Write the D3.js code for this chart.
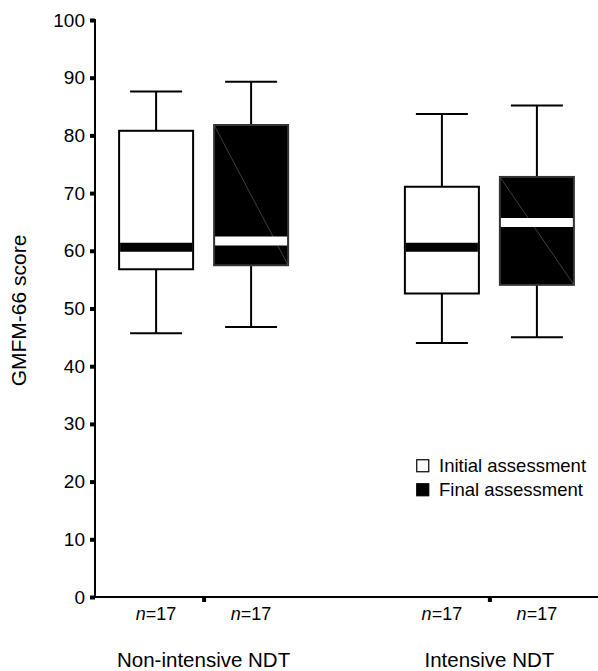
<!DOCTYPE html>
<html>
<head>
<meta charset="utf-8">
<script src="https://cdn.jsdelivr.net/npm/d3@7"></script>
<style>
  html, body { margin: 0; padding: 0; background: #fff; }
  svg { display: block; font-family: "Liberation Sans", Arial, Helvetica, sans-serif; }
</style>
</head>
<body>
<svg id="chart" width="598" height="671"></svg>
<script>
// Groups of therapy and the two assessment times within each group
const groups = ["Non-intensive NDT", "Intensive NDT"];
const assessments = ["Initial assessment", "Final assessment"];

// Box-plot statistics, ordered: group 1 initial, group 1 final, group 2 initial, group 2 final
const whiskerLow  = [45.7, 46.8, 44.0, 45.0];
const q1          = [56.8, 57.5, 52.6, 54.1];
const median      = [60.6, 61.7, 60.6, 64.9];
const q3          = [80.8, 81.8, 71.1, 72.8];
const whiskerHigh = [87.6, 89.3, 83.7, 85.2];
const sampleSize  = [17, 17, 17, 17];

const yTicks = [0, 10, 20, 30, 40, 50, 60, 70, 80, 90, 100];

const boxes = [];
groups.forEach((g, gi) => {
  assessments.forEach((a, ai) => {
    const i = gi * assessments.length + ai;
    boxes.push({
      group: g, assessment: a,
      lo: whiskerLow[i], q1: q1[i], med: median[i], q3: q3[i], hi: whiskerHigh[i],
      n: sampleSize[i]
    });
  });
});

const svg = d3.select("#chart");
const plotL = 95, plotR = 598, plotT = 20, plotB = 597;

const y = d3.scaleLinear().domain([0, 100]).range([plotB, plotT]);
const x = d3.scalePoint().domain(groups).range([plotL, plotR]).padding(0.38);
const xs = d3.scaleBand().domain(assessments).range([-95, 95]);

const boxW = 74, capW = 52;
const fillOf = a => a === assessments[0] ? "#fff" : "#000";
const bandOf = a => a === assessments[0] ? "#000" : "#fff";
const cx = d => x(d.group) + xs(d.assessment) + xs.bandwidth() / 2;

// Y axis with small square ticks
const yAxis = d3.axisLeft(y).tickValues(yTicks).tickSize(5).tickPadding(5).tickFormat(d3.format("d"));
const gy = svg.append("g").attr("transform", `translate(${plotL},0)`).call(yAxis);
gy.select(".domain").remove();
gy.selectAll(".tick line").attr("stroke", "#000").attr("stroke-width", 4);
gy.selectAll(".tick text").attr("font-size", 19).attr("fill", "#000");

// X axis ticks at group centres
const xAxis = d3.axisBottom(x).tickSize(5).tickFormat("");
const gx = svg.append("g").attr("transform", `translate(0,${plotB})`).call(xAxis);
gx.select(".domain").remove();
gx.selectAll(".tick line").attr("stroke", "#000").attr("stroke-width", 4);

// Axis lines
svg.append("line").attr("x1", plotL).attr("x2", plotL).attr("y1", plotT - 1).attr("y2", plotB + 1)
  .attr("stroke", "#000").attr("stroke-width", 2);
svg.append("line").attr("x1", plotL).attr("x2", plotR).attr("y1", plotB).attr("y2", plotB)
  .attr("stroke", "#000").attr("stroke-width", 2);

// Box plots
const bx = svg.append("g").selectAll("g").data(boxes).join("g");

// whisker stems
bx.append("line")
  .attr("x1", cx).attr("x2", cx)
  .attr("y1", d => y(d.hi)).attr("y2", d => y(d.q3))
  .attr("stroke", "#000").attr("stroke-width", 2);
bx.append("line")
  .attr("x1", cx).attr("x2", cx)
  .attr("y1", d => y(d.q1)).attr("y2", d => y(d.lo))
  .attr("stroke", "#000").attr("stroke-width", 2);
// whisker caps
bx.append("line")
  .attr("x1", d => cx(d) - capW / 2).attr("x2", d => cx(d) + capW / 2)
  .attr("y1", d => y(d.hi)).attr("y2", d => y(d.hi))
  .attr("stroke", "#000").attr("stroke-width", 2);
bx.append("line")
  .attr("x1", d => cx(d) - capW / 2).attr("x2", d => cx(d) + capW / 2)
  .attr("y1", d => y(d.lo)).attr("y2", d => y(d.lo))
  .attr("stroke", "#000").attr("stroke-width", 2);
// interquartile box
bx.append("rect")
  .attr("x", d => cx(d) - boxW / 2).attr("width", boxW)
  .attr("y", d => y(d.q3)).attr("height", d => y(d.q1) - y(d.q3))
  .attr("fill", d => fillOf(d.assessment))
  .attr("stroke", d => d.assessment === assessments[0] ? "#000" : "#333")
  .attr("stroke-width", 2);
// faint diagonal seam inside the filled boxes
bx.filter(d => d.assessment === assessments[1]).append("line")
  .attr("x1", d => cx(d) - boxW / 2).attr("y1", d => y(d.q3))
  .attr("x2", d => cx(d) + boxW / 2).attr("y2", d => y(d.q1))
  .attr("stroke", "#666").attr("stroke-width", 0.6);
// median band
bx.append("line")
  .attr("x1", d => cx(d) - boxW / 2 + 1).attr("x2", d => cx(d) + boxW / 2 - 1)
  .attr("y1", d => y(d.med)).attr("y2", d => y(d.med))
  .attr("stroke", d => bandOf(d.assessment)).attr("stroke-width", 9);

// sample size labels
const nl = svg.append("g").selectAll("text").data(boxes).join("text")
  .attr("x", cx).attr("y", 620)
  .attr("text-anchor", "middle").attr("font-size", 18).attr("fill", "#000");
nl.append("tspan").attr("font-style", "italic").text("n");
nl.append("tspan").text(d => "=" + d.n);

// group labels
svg.append("g").selectAll("text").data(groups).join("text")
  .attr("x", d => x(d)).attr("y", 667)
  .attr("text-anchor", "middle").attr("font-size", 20.5).attr("fill", "#000")
  .text(d => d);

// y axis title
svg.append("text")
  .attr("transform", `translate(26,${(plotT + plotB) / 2 + 2}) rotate(-90)`)
  .attr("text-anchor", "middle").attr("font-size", 21).attr("fill", "#000")
  .text("GMFM-66 score");

// legend
const lg = svg.append("g").attr("transform", "translate(416,459)");
const li = lg.selectAll("g").data(assessments).join("g")
  .attr("transform", (d, i) => `translate(0,${i * 24})`);
li.append("rect").attr("x", 0.75).attr("y", 0.75).attr("width", 12).attr("height", 12)
  .attr("fill", d => fillOf(d)).attr("stroke", "#000").attr("stroke-width", 1.2);
li.append("text").attr("x", 23).attr("y", 13)
  .attr("font-size", 18.5).attr("fill", "#000").text(d => d);
</script>
</body>
</html>
